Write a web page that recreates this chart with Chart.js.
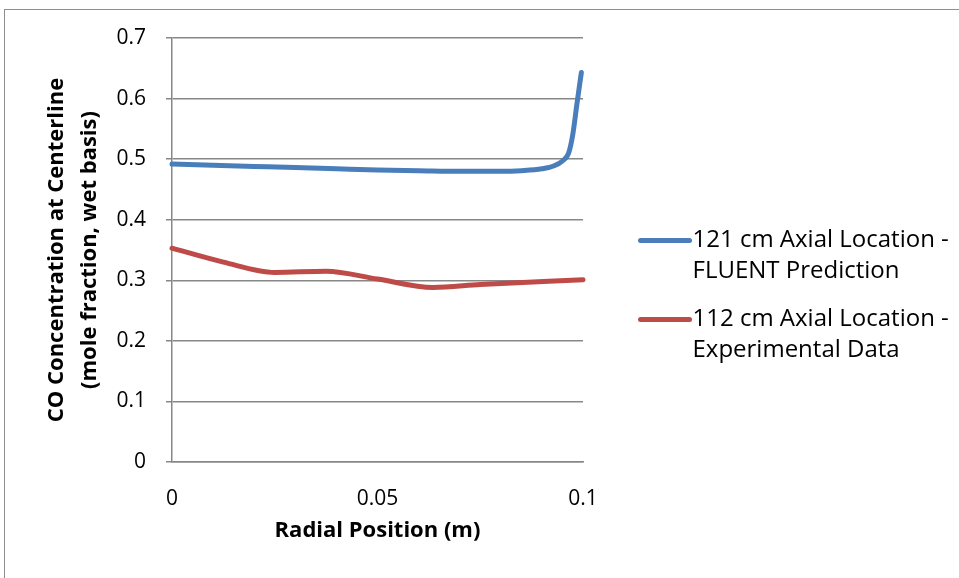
<!DOCTYPE html>
<html>
<head>
<meta charset="utf-8">
<script src="https://cdn.jsdelivr.net/npm/chart.js@4.4.1/dist/chart.umd.min.js"></script>
<style>
  html, body { margin: 0; padding: 0; background: #fff; overflow: hidden; }
  #frame { position: absolute; left: 4px; top: 9px; width: 1200px; height: 800px; border: 1px solid #8e8e8e; }
  #wrap { position: absolute; left: 0; top: 0; width: 959px; height: 578px; }
</style>
</head>
<body>
<div id="frame"></div>
<div id="wrap"><canvas id="chart" width="959" height="578"></canvas></div>
<script>
// radial positions (m) and CO mole fraction for each profile
const fluentX = [0, 0.01, 0.02, 0.03, 0.04, 0.05, 0.06, 0.07, 0.08, 0.085, 0.09, 0.093, 0.095, 0.0965, 0.0975, 0.0985, 0.0996];
const fluentY = [0.492, 0.490, 0.488, 0.486, 0.484, 0.482, 0.481, 0.480, 0.480, 0.481, 0.484, 0.489, 0.497, 0.510, 0.540, 0.590, 0.643];
const exptX = [0, 0.0125, 0.025, 0.0375, 0.05, 0.0635, 0.075, 0.1];
const exptY = [0.353, 0.330, 0.313, 0.315, 0.302, 0.288, 0.293, 0.301];

const xTickLabels = ['0', '0.05', '0.1'];
const yTickLabels = ['0', '0.1', '0.2', '0.3', '0.4', '0.5', '0.6', '0.7'];

const seriesNames = [
  ['121 cm Axial Location -', 'FLUENT Prediction'],
  ['112 cm Axial Location -', 'Experimental Data']
];
const seriesColors = ['#4a7ebb', '#be4b48'];

const FONT = "'Open Sans', 'Liberation Sans', sans-serif";
const AXIS_GRAY = '#878787';

const toPoints = (xs, ys) => xs.map((x, i) => ({ x: x, y: ys[i] }));

// legend drawn to the right of the plot, two-line entries
const sideLegend = {
  id: 'sideLegend',
  afterDraw(chart) {
    const ctx = chart.ctx;
    const area = chart.chartArea;
    const x0 = area.right + 57.5;
    const rows = [240.5, 319.5];
    ctx.save();
    ctx.font = '24px ' + FONT;
    ctx.textBaseline = 'middle';
    ctx.fillStyle = '#000';
    seriesNames.forEach((lines, i) => {
      const y = rows[i];
      ctx.strokeStyle = seriesColors[i];
      ctx.lineWidth = 5;
      ctx.lineCap = 'round';
      ctx.beginPath();
      ctx.moveTo(x0, y);
      ctx.lineTo(x0 + 49, y);
      ctx.stroke();
      lines.forEach((t, j) => ctx.fillText(t, x0 + 52, y + j * 31));
    });
    ctx.restore();
  }
};

new Chart(document.getElementById('chart'), {
  type: 'line',
  data: {
    datasets: [
      {
        label: seriesNames[0].join(' '),
        data: toPoints(fluentX, fluentY),
        borderColor: seriesColors[0],
        borderWidth: 5,
        borderCapStyle: 'round',
        cubicInterpolationMode: 'monotone',
        pointRadius: 0,
        clip: false
      },
      {
        label: seriesNames[1].join(' '),
        data: toPoints(exptX, exptY),
        borderColor: seriesColors[1],
        borderWidth: 5,
        borderCapStyle: 'round',
        cubicInterpolationMode: 'monotone',
        pointRadius: 0,
        clip: false
      }
    ]
  },
  options: {
    responsive: false,
    animation: false,
    layout: { padding: { left: 0, top: 38, right: 376, bottom: 0 } },
    plugins: {
      legend: { display: false },
      tooltip: { enabled: false }
    },
    scales: {
      x: {
        type: 'linear',
        min: 0,
        max: 0.1,
        afterFit: (scale) => { scale.height = 116; },
        grid: { display: false },
        border: { display: true, color: AXIS_GRAY, width: 1.5 },
        ticks: {
          stepSize: 0.05,
          padding: 16,
          color: '#000',
          font: { family: FONT, size: 21 },
          callback: (value, index) => xTickLabels[index]
        },
        title: {
          display: true,
          text: 'Radial Position (m)',
          color: '#000',
          font: { family: FONT, size: 22, weight: 'bold' },
          padding: { top: 34, bottom: 34 }
        }
      },
      y: {
        min: 0,
        max: 0.7,
        afterFit: (scale) => { scale.width = 172; },
        grid: { color: AXIS_GRAY, lineWidth: 1.5, tickLength: 6, drawTicks: true },
        border: { display: true, color: AXIS_GRAY, width: 1.5 },
        ticks: {
          stepSize: 0.1,
          padding: 20,
          color: '#000',
          font: { family: FONT, size: 21 },
          callback: (value, index) => yTickLabels[index]
        },
        title: {
          display: true,
          text: ['CO Concentration at Centerline', '(mole fraction, wet basis)'],
          color: '#000',
          font: { family: FONT, size: 22, weight: 'bold', lineHeight: '33px' },
          padding: { top: 40, bottom: 40 }
        }
      }
    }
  },
  plugins: [sideLegend]
});
</script>
</body>
</html>
